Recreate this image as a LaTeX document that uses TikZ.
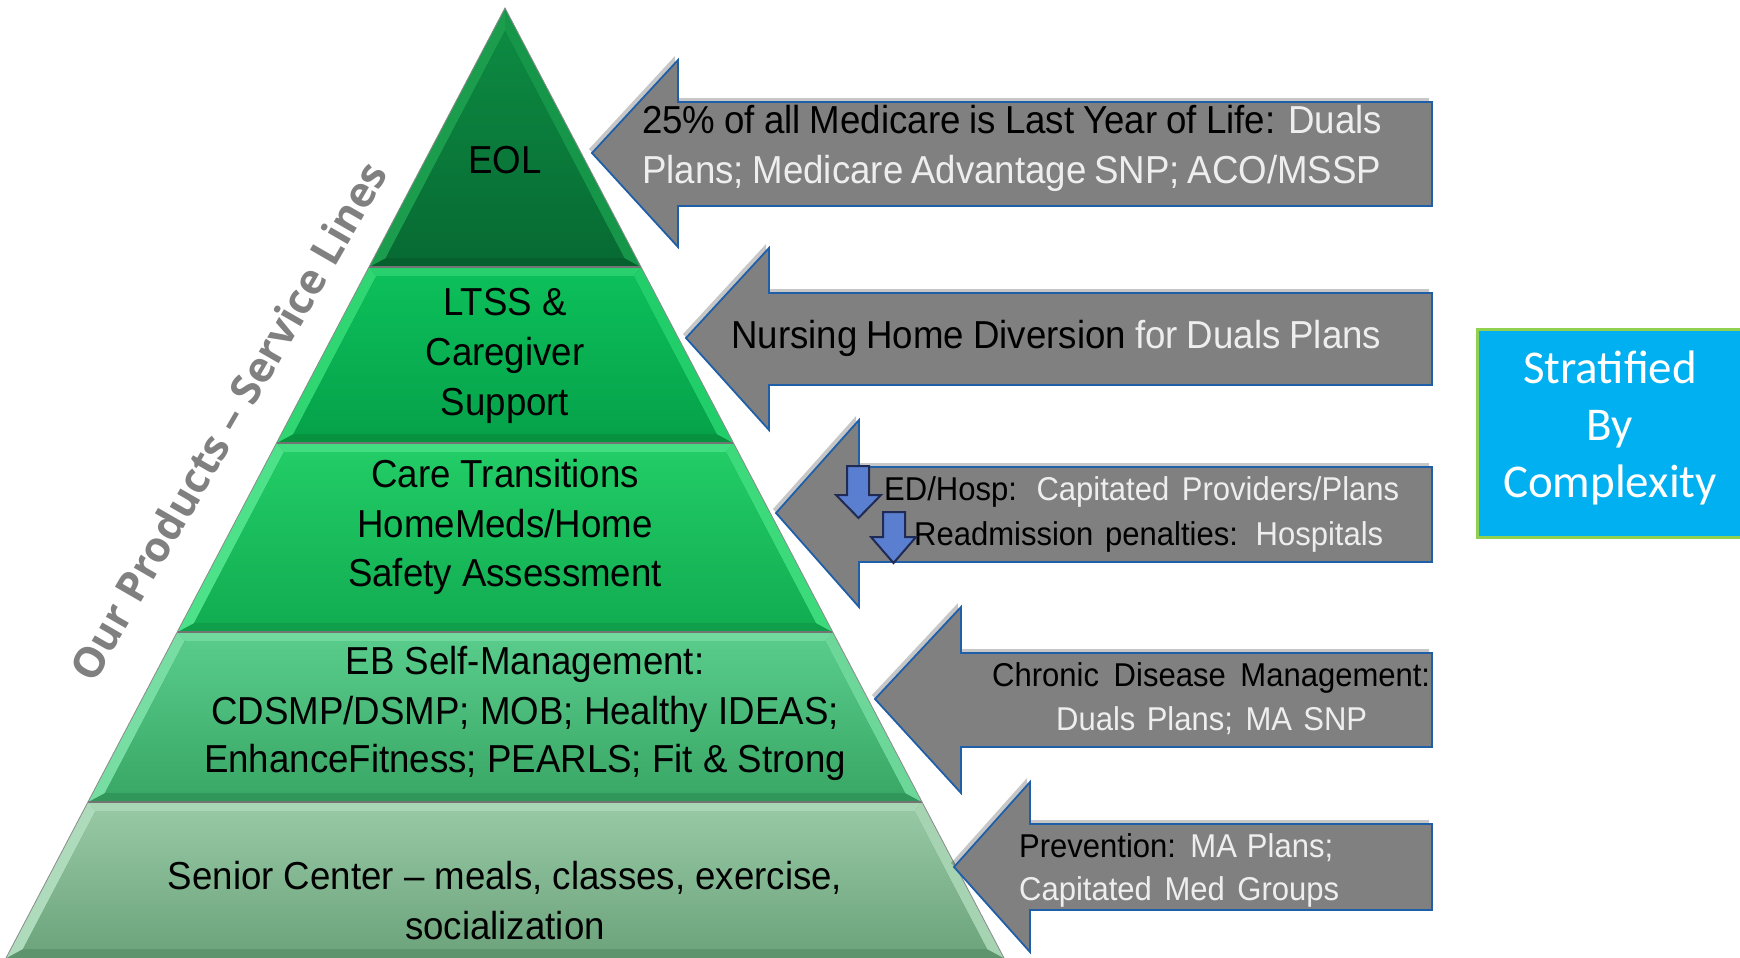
\documentclass[tikz,border=0pt]{standalone}
\usepackage{fontspec}
\setmainfont[FakeStretch=0.94]{Liberation Sans}
\newfontfamily\calib{Carlito}
\newfontfamily\osans{Open Sans}
\usetikzlibrary{shadows}
\definecolor{eolT}{HTML}{0D8A42}\definecolor{eolB}{HTML}{076B33}\definecolor{eolL}{HTML}{22A552}\definecolor{eolD}{HTML}{05602D}
\definecolor{ltT}{HTML}{0CBF5A}\definecolor{ltB}{HTML}{06A24A}\definecolor{ltL}{HTML}{3EE07D}\definecolor{ltD}{HTML}{07923F}
\definecolor{ctT}{HTML}{22CC66}\definecolor{ctB}{HTML}{12AD52}\definecolor{ctL}{HTML}{5FEC98}\definecolor{ctD}{HTML}{0F9E4A}
\definecolor{ebT}{HTML}{58CB8A}\definecolor{ebB}{HTML}{3AA867}\definecolor{ebL}{HTML}{86E5AC}\definecolor{ebD}{HTML}{30965A}
\definecolor{scT}{HTML}{96C8A4}\definecolor{scB}{HTML}{6EA57D}\definecolor{scL}{HTML}{B9E3C5}\definecolor{scD}{HTML}{5E946D}
\definecolor{agray}{HTML}{808080}
\definecolor{ablue}{HTML}{1F5FA8}
\definecolor{wtxt}{HTML}{EEEEEE}
\definecolor{cyanbox}{HTML}{00B0F0}
\definecolor{sgreen}{HTML}{92D050}
\definecolor{dfill}{HTML}{5B7FD0}
\definecolor{dline}{HTML}{1F2A55}
\newcommand\garrow[7]{%
  \draw[arrowsty] (#1,#2) -- (#3,#4) -- (#3,#6) -- (1432,#6) -- (1432,#7) -- (#3,#7) -- (#3,#5) -- cycle;}
\begin{document}
\begin{tikzpicture}[x=1pt,y=-1pt,
  ptext/.style={font=\fontsize{39}{49.5}\selectfont, anchor=base, inner sep=0pt, text=black},
  atext/.style={font=\fontsize{39}{49.5}\selectfont, anchor=base west, inner sep=0pt, text=black},
  stext/.style={font=\fontsize{33}{40}\selectfont, anchor=base west, inner sep=0pt, text=black},
  arrowsty/.style={fill=agray, draw=ablue, line width=1.8pt, line join=miter,
     drop shadow={shadow xshift=-3pt, shadow yshift=4pt, opacity=0.22, fill=black}},
  downarr/.style={fill=dfill, draw=dline, line width=2pt, line join=miter}]
\useasboundingbox (0,0) rectangle (1740,958);
\fill[white] (0,0) rectangle (1740,958);
% pyramid bands
\foreach \ya/\yb/\ct/\cb/\cl/\cd in {8/267/eolT/eolB/eolL/eolD, 267/443/ltT/ltB/ltL/ltD, 443/632/ctT/ctB/ctL/ctD, 632/802/ebT/ebB/ebL/ebD, 802/958/scT/scB/scL/scD}{
  \pgfmathsetmacro\wa{0.525*(\ya-8)}
  \pgfmathsetmacro\wb{0.525*(\yb-8)}
  \pgfmathsetmacro\yia{max(\ya+9,31)}
  \pgfmathsetmacro\yib{\yb-9}
  \pgfmathsetmacro\wia{max(0.525*(\yia-8)-12,0)}
  \pgfmathsetmacro\wib{0.525*(\yib-8)-12}
  \fill[\cd] ({505-\wa},\ya) -- ({505+\wa},\ya) -- ({505+\wb},\yb) -- ({505-\wb},\yb) -- cycle;
  \fill[\cl!55!\ct] ({505-\wa},\ya) -- ({505+\wa},\ya) -- ({505+\wia},\yia) -- ({505-\wia},\yia) -- cycle;
  \fill[\cl!70!\ct] ({505-\wa},\ya) -- ({505-\wia},\yia) -- ({505-\wib},\yib) -- ({505-\wb},\yb) -- cycle;
  \fill[\cl!45!\ct] ({505+\wa},\ya) -- ({505+\wia},\yia) -- ({505+\wib},\yib) -- ({505+\wb},\yb) -- cycle;
  \shade[top color=\ct, bottom color=\cb] ({505-\wia},\yia) -- ({505+\wia},\yia) -- ({505+\wib},\yib) -- ({505-\wib},\yib) -- cycle;
}
\foreach \yy in {267,443,632,802}{
  \pgfmathsetmacro\ww{0.525*(\yy-8)}
  \draw[black!55, line width=1.2pt] ({505-\ww},\yy) -- ({505+\ww},\yy);
}
\draw[black!45, line width=0.8pt] (6,958) -- (505,8) -- (1004,958);
% pyramid texts
\node[ptext] (eol) at (505,173) {EOL};
\node[ptext] (ltss1) at (505,315) {LTSS \&};
\node[ptext] (ltss2) at (505,365) {Caregiver};
\node[ptext] (ltss3) at (505,415) {Support};
\node[ptext] (care1) at (505,487) {Care Transitions};
\node[ptext] (care2) at (505,537) {HomeMeds/Home};
\node[ptext] (care3) at (505,586) {Safety Assessment};
\node[ptext] (eb1) at (525,674) {EB Self-Management:};
\node[ptext] (eb2) at (525,724) {CDSMP/DSMP; MOB; Healthy IDEAS;};
\node[ptext] (eb3) at (525,772) {EnhanceFitness; PEARLS; Fit \& Strong};
\node[ptext] (sen1) at (505,889) {Senior Center – meals, classes, exercise,};
\node[ptext] (sen2) at (505,939) {socialization};
% side label
\node[rotate=60, text=agray, inner sep=0pt] (ourprod) at (228,421) {\osans\bfseries\fontsize{42}{50}\selectfont Our Products – Service Lines};
% arrows
\garrow{592}{153}{678}{60}{247}{102}{206}
\garrow{686}{338}{769}{248}{430}{293}{385}
\garrow{776}{513}{859}{420}{607}{467}{562}
\garrow{875}{699}{961}{607}{793}{653}{747}
\garrow{954}{867}{1030}{782}{952}{824}{910}
% arrow texts
\node[atext] (a1l1) at (642,133) {\makebox[740pt][s]{25\% of all Medicare is Last Year of Life: \textcolor{wtxt}{Duals}}};
\node[atext, text=wtxt] (a1l2) at (642,183) {\makebox[739pt][s]{Plans; Medicare Advantage SNP; ACO/MSSP}};
\node[atext] (a2) at (731,348) {\makebox[650pt][s]{Nursing Home Diversion \textcolor{wtxt}{for Duals Plans}}};
\node[stext] (a3l1) at (884,500) {\makebox[515pt][s]{ED/Hosp: \textcolor{wtxt}{Capitated Providers/Plans}}};
\node[stext] (a3l2) at (914,545) {\makebox[469pt][s]{Readmission penalties: \textcolor{wtxt}{Hospitals}}};
\node[stext] (a4l1) at (992,686) {\makebox[438pt][s]{Chronic Disease Management:}};
\node[stext, text=wtxt] (a4l2) at (1056,730) {\makebox[311pt][s]{Duals Plans; MA SNP}};
\node[stext] (a5l1) at (1019,857) {\makebox[314pt][s]{Prevention: \textcolor{wtxt}{MA Plans;}}};
\node[stext, text=wtxt] (a5l2) at (1019,900) {\makebox[320pt][s]{Capitated Med Groups}};
% small down arrows
\draw[downarr] (847,466) -- (869,466) -- (869,495) -- (881,495) -- (858.5,518) -- (836,495) -- (847,495) -- cycle;
\draw[downarr] (883,512) -- (905,512) -- (905,537) -- (916,537) -- (893.5,563) -- (871,537) -- (883,537) -- cycle;
% stratified box
\draw[fill=cyanbox, draw=sgreen, line width=3pt] (1477,329) rectangle (1750,537);
\node[text=white, anchor=base, inner sep=0pt, font=\calib\fontsize{47}{57}\selectfont] (strat1) at (1610,383) {Stratified};
\node[text=white, anchor=base, inner sep=0pt, font=\calib\fontsize{47}{57}\selectfont] (strat2) at (1610,440) {By};
\node[text=white, anchor=base, inner sep=0pt, font=\calib\fontsize{47}{57}\selectfont] (strat3) at (1610,497) {Complexity};
\end{tikzpicture}
\end{document}
